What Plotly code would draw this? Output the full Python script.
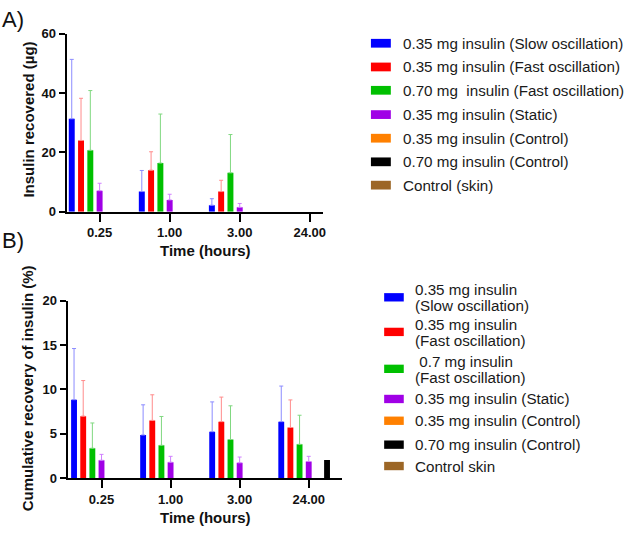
import plotly.graph_objects as go

W, H = 629, 534
FONT = "Liberation Sans, Arial, sans-serif"

categories = ["0.25", "1.00", "3.00", "24.00"]

series_names_a = [
    "0.35 mg insulin (Slow oscillation)",
    "0.35 mg insulin (Fast oscillation)",
    "0.70 mg\u00a0 insulin (Fast oscillation)",
    "0.35 mg insulin (Static)",
    "0.35 mg insulin (Control)",
    "0.70 mg insulin (Control)",
    "Control (skin)",
]
series_names_b = [
    ["0.35 mg insulin", "(Slow oscillation)"],
    ["0.35 mg insulin", "(Fast oscillation)"],
    ["\u00a00.7 mg insulin", "(Fast oscillation)"],
    ["0.35 mg insulin (Static)"],
    ["0.35 mg insulin (Control)"],
    ["0.70 mg insulin (Control)"],
    ["Control skin"],
]
colors = ["#0000FF", "#FF0000", "#00C000", "#A000E6", "#FF8000", "#000000", "#9C6626"]
err_colors = ["#8C8CFF", "#FF8C8C", "#80D880", "#D080FF", "#FFB070", "#606060", "#C09060"]

# Panel A: insulin recovered (µg), mean and upper SD (no recovery at 24 h)
a_slow_035 = [31.3, 6.8, 2.2, None]
a_fast_035 = [24.0, 14.0, 6.8, None]
a_fast_070 = [20.7, 16.4, 13.1, None]
a_static_035 = [7.1, 4.0, 1.5, None]
a_control_035 = [0, 0, 0, 0]
a_control_070 = [0, 0, 0, 0]
a_control_skin = [0, 0, 0, 0]
a_slow_035_sd = [20.0, 7.1, 2.2, 0]
a_fast_035_sd = [14.2, 6.2, 3.8, 0]
a_fast_070_sd = [20.1, 16.5, 12.9, 0]
a_static_035_sd = [2.5, 1.9, 1.3, 0]

# Panel B: cumulative recovery of insulin (%), mean and upper SD
b_slow_035 = [8.85, 4.88, 5.25, 6.38]
b_fast_035 = [7.0, 6.52, 6.38, 5.72]
b_fast_070 = [3.39, 3.72, 4.37, 3.83]
b_static_035 = [2.04, 1.82, 1.75, 1.9]
b_control_035 = [0, 0, 0, 0]
b_control_070 = [0, 0, 0, 2.08]
b_control_skin = [0, 0, 0, 0]
b_slow_035_sd = [5.75, 3.39, 3.35, 4.0]
b_fast_035_sd = [4.0, 2.88, 2.76, 3.1]
b_fast_070_sd = [2.84, 3.24, 3.79, 3.27]
b_static_035_sd = [0.66, 0.66, 0.65, 0.58]

a_vals = [a_slow_035, a_fast_035, a_fast_070, a_static_035, a_control_035, a_control_070, a_control_skin]
a_sds = [a_slow_035_sd, a_fast_035_sd, a_fast_070_sd, a_static_035_sd, None, None, None]
b_vals = [b_slow_035, b_fast_035, b_fast_070, b_static_035, b_control_035, b_control_070, b_control_skin]
b_sds = [b_slow_035_sd, b_fast_035_sd, b_fast_070_sd, b_static_035_sd, None, None, None]


def px(x):
    return x / W


def py(y):
    return 1 - y / H


fig = go.Figure()

for i in range(7):
    for vals, sds, xa, ya, name in [
        (a_vals[i], a_sds[i], "x", "y", series_names_a[i]),
        (b_vals[i], b_sds[i], "x2", "y2", " ".join(series_names_b[i])),
    ]:
        err = None
        if sds is not None:
            err = dict(type="data", symmetric=False, array=sds,
                       arrayminus=[0] * len(sds), color=err_colors[i],
                       thickness=1, width=2)
        fig.add_trace(go.Bar(
            x=categories, y=vals, name=name, marker=dict(color=colors[i], line=dict(width=0)),
            error_y=err, xaxis=xa, yaxis=ya, showlegend=False,
        ))

axis_common = dict(showline=True, linecolor="black", linewidth=2, ticks="outside",
                   tickcolor="black", tickwidth=2, showgrid=False, zeroline=False,
                   tickfont=dict(family=FONT, size=13, color="#111", weight="bold"))

fig.update_layout(
    width=W, height=H, margin=dict(l=0, r=0, t=0, b=0),
    paper_bgcolor="white", plot_bgcolor="white",
    barmode="group", bargap=0.072, bargroupgap=0.36,
    showlegend=False,
    xaxis=dict(domain=[px(67), px(325)], anchor="y", type="category",
               range=[-0.47, 3.195], ticklen=8, **axis_common),
    yaxis=dict(domain=[py(210.7), py(27.3)], anchor="x", range=[0, 60],
               tickvals=[0, 20, 40, 60], ticklen=6, **axis_common),
    xaxis2=dict(domain=[px(68), px(344)], anchor="y2", type="category",
                range=[-0.49, 3.487], ticklen=8, **axis_common),
    yaxis2=dict(domain=[py(485), py(302)], anchor="x2", range=[0, 20],
                tickvals=[0, 5, 10, 15, 20], ticklen=6, **axis_common),
)

ann = []
title_font = dict(family=FONT, size=15, color="#111", weight="bold")
ann.append(dict(text="Insulin recovered (µg)", x=px(29), y=py(116), textangle=-90,
                font=title_font))
ann.append(dict(text="Time (hours)", x=px(206), y=py(251), font=title_font))
ann.append(dict(text="Cumulative recovery of insulin (%)", x=px(28), y=py(392.5), textangle=-90,
                font=title_font))
ann.append(dict(text="Time (hours)", x=px(206), y=py(525), font=title_font))
ann.append(dict(text="A)", x=px(0), y=py(13), xanchor="left",
                font=dict(family=FONT, size=22, color="#111")))
ann.append(dict(text="B)", x=px(0), y=py(240), xanchor="left",
                font=dict(family=FONT, size=22, color="#111")))

leg_font = dict(family=FONT, size=15.2, color="#1a1a1a")
shapes = []
a_rows = [37.3, 61.7, 85.7, 110.7, 135, 159.3, 183.3]
for i, yc in enumerate(a_rows):
    shapes.append(dict(type="rect", xref="paper", yref="paper", x0=px(372.7), x1=px(392.7),
                       y0=py(yc + 4.5), y1=py(yc - 4.5), fillcolor=colors[i], line=dict(width=0)))
    ann.append(dict(text=series_names_a[i], x=px(402.5), y=py(yc), xanchor="left", font=leg_font))

b_swatch = [298.7, 334.3, 372.3, 403.3, 425.7, 450.3, 472.3]
b_lines = [[290.7, 306.7], [326.7, 343.3], [365, 381.7], [403.3], [425.7], [450.3], [472.3]]
for i, yc in enumerate(b_swatch):
    shapes.append(dict(type="rect", xref="paper", yref="paper", x0=px(386), x1=px(405.7),
                       y0=py(yc + 4.3), y1=py(yc - 4.3), fillcolor=colors[i], line=dict(width=0)))
    for line_text, ly in zip(series_names_b[i], b_lines[i]):
        ann.append(dict(text=line_text, x=px(414.5), y=py(ly), xanchor="left", font=leg_font))

for a in ann:
    a.update(xref="paper", yref="paper", showarrow=False)
    a.setdefault("xanchor", "center")
    a.setdefault("yanchor", "middle")

fig.update_layout(annotations=ann, shapes=shapes)
fig.write_html(
    "out.html",
    config={"displayModeBar": False},
    post_script="document.body.style.margin='0';document.body.style.overflow='hidden';",
)
